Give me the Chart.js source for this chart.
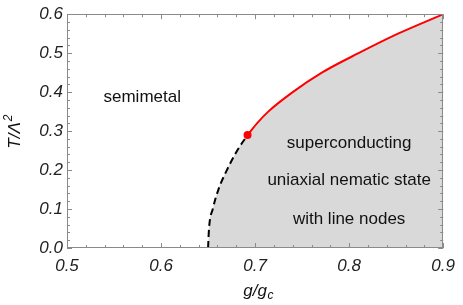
<!DOCTYPE html>
<html><head><meta charset="utf-8">
<script src="https://cdn.jsdelivr.net/npm/chart.js@4"></script>
<style>html,body{margin:0;padding:0;background:#fff}</style>
</head><body>
<canvas id="c" width="463" height="305"></canvas>
<script>
// ---- data ----
const xTickValues = [0.5, 0.6, 0.7, 0.8, 0.9];
const yTickValues = [0.0, 0.1, 0.2, 0.3, 0.4, 0.5, 0.6];
// dashed (black) branch of the phase boundary
const dashedG = [0.650, 0.651, 0.655, 0.661, 0.670, 0.681, 0.692];
const dashedT = [0.00, 0.05, 0.10, 0.15, 0.20, 0.25, 0.29];
// solid (red) branch of the phase boundary
const solidG = [0.692, 0.702, 0.714, 0.740, 0.771, 0.810, 0.852, 0.900];
const solidT = [0.29, 0.32, 0.35, 0.40, 0.45, 0.50, 0.55, 0.60];
// marked point
const pointG = [0.692];
const pointT = [0.29];
// region labels
const labelTexts = ["semimetal", "superconducting", "uniaxial nematic state", "with line nodes"];
const labelG = [0.58, 0.80, 0.80, 0.80];
const labelT = [0.375, 0.256, 0.161, 0.0605];

const toXY = (gs, ts) => gs.map((g, i) => ({x: g, y: ts[i]}));
const dashedPts = toXY(dashedG, dashedT);
const solidPts = toXY(solidG, solidT);
const fillPts = dashedPts.concat(solidPts.slice(1));

const FONT = '"Liberation Sans", Arial, sans-serif';

const framePlugin = {
  id: 'frame',
  afterDatasetsDraw(chart) {
    const ctx = chart.ctx, a = chart.chartArea;
    const xs = chart.scales.x, ys = chart.scales.y;
    ctx.save();
    ctx.strokeStyle = '#8a8a8a';
    ctx.lineWidth = 1;
    ctx.strokeRect(Math.round(a.left) + 0.5, Math.round(a.top) + 0.5,
      Math.round(a.right - a.left) - 1, Math.round(a.bottom - a.top) - 1);
    ctx.beginPath();
    // x ticks
    for (let k = 0; k <= 20; k++) {
      const v = 0.5 + k * 0.02;
      const px = Math.round(xs.getPixelForValue(v)) + 0.5;
      const len = (k % 5 === 0) ? 5 : 3;
      ctx.moveTo(px, a.bottom); ctx.lineTo(px, a.bottom - len);
      ctx.moveTo(px, a.top); ctx.lineTo(px, a.top + len);
    }
    for (let k = 0; k <= 30; k++) {
      const v = k * 0.02;
      const py = Math.round(ys.getPixelForValue(v)) + 0.5;
      const len = (k % 5 === 0) ? 5 : 3;
      ctx.moveTo(a.left, py); ctx.lineTo(a.left + len, py);
      ctx.moveTo(a.right, py); ctx.lineTo(a.right - len, py);
    }
    ctx.stroke();

    // region labels
    ctx.fillStyle = '#111';
    ctx.font = '17px ' + FONT;
    ctx.textAlign = 'center';
    ctx.textBaseline = 'alphabetic';
    labelTexts.forEach((t, i) => {
      ctx.fillText(t, xs.getPixelForValue(labelG[i]), ys.getPixelForValue(labelT[i]));
    });

    // x axis title: g/g_c
    ctx.textAlign = 'left';
    ctx.font = 'italic 17px ' + FONT;
    const main = 'g/g';
    ctx.font = 'italic 17px ' + FONT;
    const w1 = ctx.measureText(main).width;
    ctx.font = 'italic 12px ' + FONT;
    const w2 = ctx.measureText('c').width;
    const cx = (a.left + a.right) / 2 + 3;
    let x0 = cx - (w1 + w2) / 2;
    const base = 296;
    ctx.font = 'italic 17px ' + FONT;
    ctx.fillText(main, x0, base);
    ctx.font = 'italic 12px ' + FONT;
    ctx.fillText('c', x0 + w1 + 0.5, base + 3);

    // y axis title: T/Λ^2 rotated
    ctx.save();
    ctx.translate(20, (a.top + a.bottom) / 2 + 1);
    ctx.rotate(-Math.PI / 2);
    ctx.font = 'italic 17px ' + FONT;
    const m2 = 'T/Λ';
    const v1 = ctx.measureText(m2).width;
    ctx.font = 'italic 12px ' + FONT;
    const v2 = ctx.measureText('2').width;
    const y0 = -(v1 + v2) / 2;
    ctx.font = 'italic 17px ' + FONT;
    ctx.fillText(m2, y0, 0);
    ctx.font = 'italic 12px ' + FONT;
    ctx.fillText('2', y0 + v1 + 1, -8);
    ctx.restore();
    ctx.restore();
  }
};

new Chart(document.getElementById('c'), {
  type: 'line',
  data: {
    datasets: [
      { data: toXY(pointG, pointT), showLine: false, pointRadius: 4, pointBackgroundColor: '#ff0000',
        pointBorderWidth: 0, order: 0 },
      { data: solidPts, borderColor: '#ff0000', borderWidth: 2, pointRadius: 0, fill: false,
        cubicInterpolationMode: 'monotone', order: 1 },
      { data: dashedPts, borderColor: '#000', borderWidth: 2, borderDash: [7, 4], pointRadius: 0, fill: false,
        cubicInterpolationMode: 'monotone', order: 2 },
      { data: fillPts, borderWidth: 0, borderColor: 'rgba(0,0,0,0)', backgroundColor: 'rgb(217,217,217)',
        pointRadius: 0, fill: 'origin', cubicInterpolationMode: 'monotone', order: 3 }
    ]
  },
  options: {
    responsive: false,
    animation: false,
    devicePixelRatio: 1,
    layout: { padding: { top: 13, right: 16, left: 0, bottom: 0 } },
    plugins: { legend: { display: false }, tooltip: { enabled: false } },
    scales: {
      x: {
        type: 'linear', min: 0.5, max: 0.9,
        afterFit: s => { s.height = 57; },
        afterBuildTicks: s => { s.ticks = xTickValues.map(v => ({value: v})); },
        grid: { display: false, drawTicks: false },
        border: { display: false },
        ticks: { padding: 8, color: '#222', font: { family: FONT, size: 17, style: 'italic' },
          callback: v => Number(v).toFixed(1), maxRotation: 0, autoSkip: false }
      },
      y: {
        type: 'linear', min: 0, max: 0.6,
        afterFit: s => { s.width = 67; },
        afterBuildTicks: s => { s.ticks = yTickValues.map(v => ({value: v})); },
        grid: { display: false, drawTicks: false },
        border: { display: false },
        ticks: { padding: 4, color: '#222', font: { family: FONT, size: 17, style: 'italic' },
          callback: v => Number(v).toFixed(1), autoSkip: false }
      }
    }
  },
  plugins: [framePlugin]
});
</script>
</body></html>
